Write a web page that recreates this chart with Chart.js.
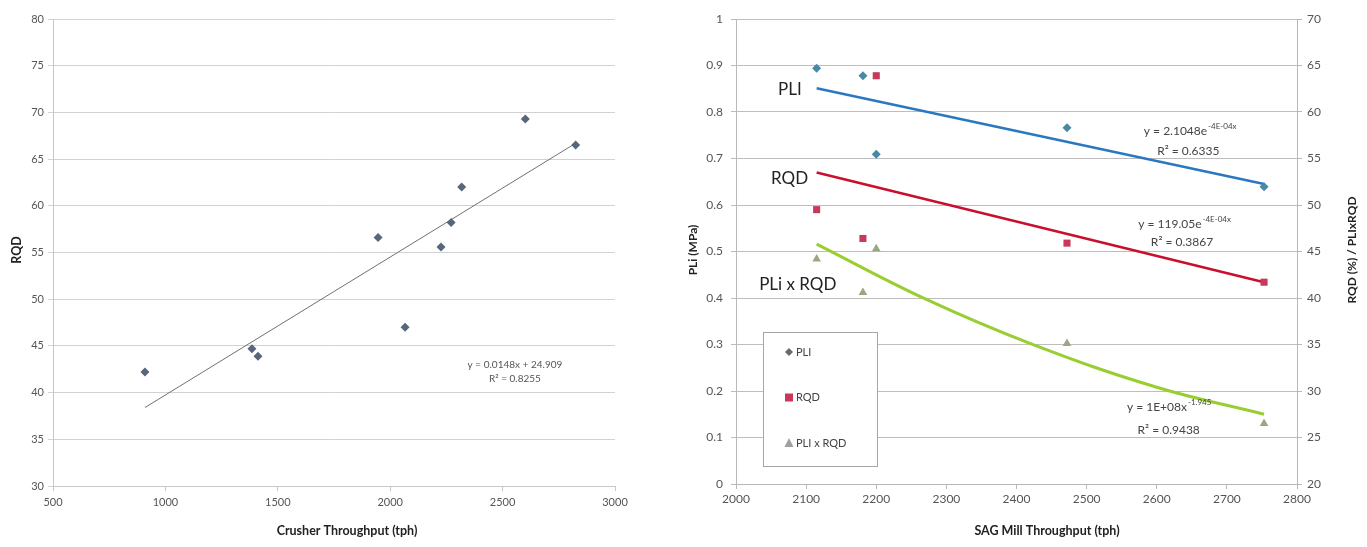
<!DOCTYPE html>
<html>
<head>
<meta charset="utf-8">
<script src="https://cdn.jsdelivr.net/npm/chart.js@4.4.0/dist/chart.umd.min.js"></script>
<style>
html, body { margin: 0; padding: 0; background: #fff; }
#wrap { position: relative; width: 1367px; height: 547px; }
#c1 { position: absolute; left: 0; top: 0; }
#c2 { position: absolute; left: 680px; top: 0; }
</style>
</head>
<body>
<div id="wrap">
  <canvas id="c1" width="680" height="547"></canvas>
  <canvas id="c2" width="687" height="547"></canvas>
</div>
<script>
// left chart - crusher throughput vs RQD
var crusherTph = [909, 1385, 1412, 1946, 2066, 2226, 2271, 2318, 2601, 2825];
var crusherRqd = [42.2, 44.7, 43.9, 56.6, 47.0, 55.6, 58.2, 62.0, 69.3, 66.5];
var crusherFitTph = [909, 2825];
var crusherFitRqd = [38.4, 66.7];

// right chart - SAG mill throughput
var sagTph = [2115, 2181, 2200, 2472, 2753];
var sagPli = [0.894, 0.878, 0.709, 0.766, 0.639];
var sagRqd = [49.5, 46.4, 63.9, 45.9, 41.7];
var sagPliRqd = [44.2, 40.6, 45.3, 35.1, 26.5];

// trend lines
var pliFitTph = [2115, 2753];
var pliFitVal = [0.851, 0.645];
var rqdFitTph = [2115, 2753];
var rqdFitVal = [53.5, 41.7];
var prodFitTph = [2115, 2270, 2420, 2600, 2753];
var prodFitVal = [45.8, 39.9, 35.1, 30.4, 27.5];

var FONT = 'Lato, "Open Sans", sans-serif';

function pts(xs, ys) {
  return xs.map(function (x, i) { return { x: x, y: ys[i] }; });
}

// plain tick labels, no thousands separators
function plain(v) {
  return String(Math.round(v * 10) / 10);
}

// text notes, titles and the legend box
var notesPlugin = {
  id: 'notes',
  afterDatasetsDraw: function (chart) {
    var o = chart.options.plugins.notes;
    if (!o) return;
    var ctx = chart.ctx;
    ctx.save();
    (o.items || []).forEach(function (n) {
      var px = chart.scales.x.getPixelForValue(n.x);
      var py = chart.scales[n.axis || 'y'].getPixelForValue(n.y);
      ctx.font = n.size + 'px ' + FONT;
      ctx.fillStyle = n.color || '#333';
      ctx.textBaseline = 'middle';
      var w = ctx.measureText(n.text).width;
      var sw = 0;
      if (n.sup) {
        ctx.font = Math.round(n.size * 0.65) + 'px ' + FONT;
        sw = ctx.measureText(n.sup).width;
      }
      var x0 = n.align === 'left' ? px : px - (w + sw) / 2;
      ctx.font = n.size + 'px ' + FONT;
      ctx.textAlign = 'left';
      ctx.fillText(n.text, x0, py);
      if (n.sup) {
        ctx.font = Math.round(n.size * 0.65) + 'px ' + FONT;
        ctx.fillText(n.sup, x0 + w + 1, py - n.size * 0.4);
      }
    });
    (o.titles || []).forEach(function (t) {
      ctx.save();
      ctx.translate(t.px, t.py);
      if (t.rot) ctx.rotate(t.rot);
      ctx.font = 'bold ' + t.size + 'px ' + FONT;
      ctx.fillStyle = '#222';
      ctx.textAlign = 'center';
      ctx.textBaseline = 'middle';
      ctx.fillText(t.text, 0, 0);
      ctx.restore();
    });
    if (o.legend) {
      var L = o.legend;
      ctx.fillStyle = '#fff';
      ctx.fillRect(L.x, L.y, L.w, L.h);
      ctx.strokeStyle = '#a6a6a6';
      ctx.lineWidth = 1;
      ctx.strokeRect(L.x + 0.5, L.y + 0.5, L.w, L.h);
      L.entries.forEach(function (e, i) {
        var cy = L.y + L.first + i * L.gap;
        var cx = L.x + 26;
        ctx.fillStyle = e.color;
        ctx.beginPath();
        if (e.style === 'rectRot') {
          ctx.moveTo(cx, cy - 4); ctx.lineTo(cx + 4, cy); ctx.lineTo(cx, cy + 4); ctx.lineTo(cx - 4, cy);
        } else if (e.style === 'rect') {
          ctx.rect(cx - 4, cy - 4, 8, 8);
        } else {
          ctx.moveTo(cx, cy - 5); ctx.lineTo(cx + 4.5, cy + 4); ctx.lineTo(cx - 4.5, cy + 4);
        }
        ctx.closePath();
        ctx.fill();
        ctx.font = '11px ' + FONT;
        ctx.fillStyle = '#444';
        ctx.textAlign = 'left';
        ctx.textBaseline = 'middle';
        ctx.fillText(e.text, cx + 7, cy);
      });
    }
    ctx.restore();
  }
};

function fixSize(w, h) {
  return function (s) {
    if (w != null) s.width = w;
    if (h != null) s.height = h;
  };
}

// ---------- left chart ----------
new Chart(document.getElementById('c1').getContext('2d'), {
  type: 'scatter',
  data: {
    datasets: [
      {
        label: 'RQD',
        data: pts(crusherTph, crusherRqd),
        pointStyle: 'rectRot',
        pointRadius: 4.5,
        backgroundColor: '#56677c',
        borderColor: '#56677c',
        borderWidth: 0
      },
      {
        label: 'Linear fit',
        data: pts(crusherFitTph, crusherFitRqd),
        showLine: true,
        pointRadius: 0,
        borderColor: '#707070',
        borderWidth: 1
      }
    ]
  },
  options: {
    responsive: false,
    animation: false,
    layout: { padding: { top: 19, right: 65, left: 0, bottom: 0 } },
    plugins: {
      legend: { display: false },
      tooltip: { enabled: false },
      notes: {
        items: [
          { text: 'y = 0.0148x + 24.909', x: 2555, y: 43.0, size: 10, color: '#555' },
          { text: 'R² = 0.8255', x: 2555, y: 41.5, size: 10, color: '#555' }
        ],
        titles: [
          { text: 'RQD', px: 17, py: 250, rot: -Math.PI / 2, size: 12.5 },
          { text: 'Crusher Throughput (tph)', px: 347, py: 531, size: 12.5 }
        ]
      }
    },
    scales: {
      x: {
        type: 'linear', min: 500, max: 3000,
        afterFit: fixSize(null, 61),
        ticks: { stepSize: 500, callback: plain, color: '#555', font: { family: FONT, size: 11 }, padding: 5, maxRotation: 0 },
        grid: { drawOnChartArea: false, drawTicks: true, tickLength: 5, color: '#c8c8c8' },
        border: { color: '#c8c8c8' }
      },
      y: {
        min: 30, max: 80,
        afterFit: fixSize(53, null),
        ticks: { stepSize: 5, callback: plain, color: '#555', font: { family: FONT, size: 11 }, padding: 4 },
        grid: { color: '#d2d2d2', tickLength: 5 },
        border: { color: '#c8c8c8' }
      }
    }
  },
  plugins: [notesPlugin]
});

// ---------- right chart ----------
new Chart(document.getElementById('c2').getContext('2d'), {
  type: 'scatter',
  data: {
    datasets: [
      {
        label: 'PLI',
        data: pts(sagTph, sagPli),
        yAxisID: 'y',
        pointStyle: 'rectRot',
        pointRadius: 4.5,
        backgroundColor: '#4a88a8',
        borderWidth: 0
      },
      {
        label: 'RQD',
        data: pts(sagTph, sagRqd),
        yAxisID: 'y1',
        pointStyle: 'rect',
        pointRadius: 5,
        backgroundColor: '#c8385a',
        borderWidth: 0
      },
      {
        label: 'PLI x RQD',
        data: pts(sagTph, sagPliRqd),
        yAxisID: 'y1',
        pointStyle: 'triangle',
        pointRadius: 5,
        backgroundColor: '#9aa882',
        borderWidth: 0
      },
      {
        label: 'PLI fit',
        data: pts(pliFitTph, pliFitVal),
        yAxisID: 'y',
        showLine: true,
        pointRadius: 0,
        borderColor: '#2a78c0',
        borderWidth: 2.5
      },
      {
        label: 'RQD fit',
        data: pts(rqdFitTph, rqdFitVal),
        yAxisID: 'y1',
        showLine: true,
        pointRadius: 0,
        borderColor: '#c8102e',
        borderWidth: 2.5
      },
      {
        label: 'PLI x RQD fit',
        data: pts(prodFitTph, prodFitVal),
        yAxisID: 'y1',
        showLine: true,
        tension: 0.4,
        pointRadius: 0,
        borderColor: '#9acd32',
        borderWidth: 3
      }
    ]
  },
  options: {
    responsive: false,
    animation: false,
    layout: { padding: { top: 19, right: 0, left: 0, bottom: 0 } },
    plugins: {
      legend: { display: false },
      tooltip: { enabled: false },
      notes: {
        items: [
          { text: 'PLI', x: 2060, y: 62.4, axis: 'y1', size: 17, color: '#222', align: 'left' },
          { text: 'RQD', x: 2050, y: 52.9, axis: 'y1', size: 17, color: '#222', align: 'left' },
          { text: 'PLi x RQD', x: 2033, y: 41.5, axis: 'y1', size: 17, color: '#222', align: 'left' },
          { text: 'y = 2.1048e', sup: '-4E-04x', x: 2647, y: 57.9, axis: 'y1', size: 12, color: '#444' },
          { text: 'R² = 0.6335', x: 2645, y: 55.8, axis: 'y1', size: 12, color: '#444' },
          { text: 'y = 119.05e', sup: '-4E-04x', x: 2639, y: 47.9, axis: 'y1', size: 12, color: '#444' },
          { text: 'R² = 0.3867', x: 2636, y: 46.0, axis: 'y1', size: 12, color: '#444' },
          { text: 'y = 1E+08x', sup: '-1.945', x: 2617, y: 28.3, axis: 'y1', size: 12, color: '#444' },
          { text: 'R² = 0.9438', x: 2617, y: 25.8, axis: 'y1', size: 12, color: '#444' }
        ],
        titles: [
          { text: 'PLi (MPa)', px: 13, py: 250, rot: -Math.PI / 2, size: 12 },
          { text: 'RQD (%) / PLIxRQD', px: 672, py: 250, rot: -Math.PI / 2, size: 12 },
          { text: 'SAG Mill Throughput (tph)', px: 367, py: 531, size: 12.5 }
        ],
        legend: {
          x: 83, y: 332, w: 114, h: 134, first: 20, gap: 45.5,
          entries: [
            { text: 'PLI', style: 'rectRot', color: '#6a6a6a' },
            { text: 'RQD', style: 'rect', color: '#c8385a' },
            { text: 'PLI x RQD', style: 'triangle', color: '#a0a0a0' }
          ]
        }
      }
    },
    scales: {
      x: {
        type: 'linear', min: 2000, max: 2800,
        afterFit: fixSize(null, 63),
        ticks: { stepSize: 100, callback: plain, color: '#555', font: { family: FONT, size: 12 }, padding: 3, maxRotation: 0 },
        grid: { drawOnChartArea: false, drawTicks: true, tickLength: 5, color: '#b8b8b8' },
        border: { color: '#b8b8b8' }
      },
      y: {
        position: 'left', min: 0, max: 1,
        afterFit: fixSize(56, null),
        ticks: { stepSize: 0.1, callback: plain, color: '#555', font: { family: FONT, size: 12 }, padding: 8 },
        grid: { color: '#bdbdbd', tickLength: 5 },
        border: { color: '#b8b8b8' }
      },
      y1: {
        position: 'right', min: 20, max: 70,
        afterFit: fixSize(70, null),
        ticks: { stepSize: 5, callback: plain, color: '#555', font: { family: FONT, size: 12 }, padding: 5 },
        grid: { drawOnChartArea: false, tickLength: 5, color: '#b8b8b8' },
        border: { color: '#b8b8b8' }
      }
    }
  },
  plugins: [notesPlugin]
});
</script>
</body>
</html>
